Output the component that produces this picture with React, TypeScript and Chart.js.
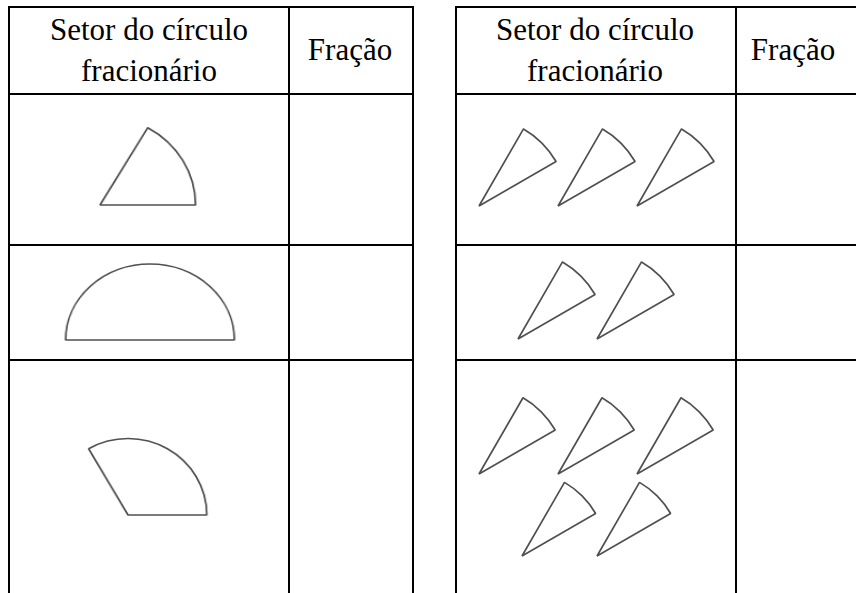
import React, { useEffect, useRef } from "react";
import { Chart, registerables } from "chart.js";

Chart.register(...registerables);

// ---- content ----
const headerSectorLines = ["Setor do círculo", "fracionário"];
const headerFraction = "Fração";
// Left table: one sector per row, as a fraction of the whole circle
const leftRowFractions = [1 / 6, 1 / 2, 1 / 3];
const leftRowStartDeg = [0, 0, 0];
// Right table: equal slices repeated in each row
const rightSliceFraction = 1 / 12;
const rightSliceStartDeg = 30;
const rightRowCounts = [3, 2, 5];

// ---- layout (pixels) ----
const FONT = "'Liberation Serif', 'Times New Roman', serif";
const FONT_SIZE = 31;
const LINE_H = 41;
const LINE_W = 2;
const rowLinesY = [6, 93, 244, 359];
const tables = [
  { x0: 8, x1: 414, colX: [8, 288, 412], sectorCenter: 149, fractionCenter: 350 },
  { x0: 455, x1: 860, colX: [455, 735], sectorCenter: 595, fractionCenter: 793 },
];
const leftSectorLayout = [
  { cx: 100, cy: 205, r: 89.3, sx: 1.07 },
  { cx: 150.3, cy: 340, r: 76, sx: 1.11 },
  { cx: 128.3, cy: 515, r: 76.5, sx: 1.03 },
];
const rightSliceLayout = [
  [
    { cx: 479, cy: 205.7, r: 89 },
    { cx: 557.7, cy: 205.7, r: 89 },
    { cx: 636.7, cy: 205.7, r: 89 },
  ],
  [
    { cx: 517.7, cy: 339.3, r: 89 },
    { cx: 596.7, cy: 339.3, r: 89 },
  ],
  [
    { cx: 479, cy: 474.3, r: 88 },
    { cx: 557.7, cy: 474.3, r: 88 },
    { cx: 636.7, cy: 474.3, r: 88 },
    { cx: 521.7, cy: 555.7, r: 85 },
    { cx: 596.7, cy: 555.7, r: 85 },
  ],
];
const STROKE = "#505050";

type SectorProps = {
  fraction: number;
  startDeg: number;
  cx: number;
  cy: number;
  r: number;
  sx?: number;
};

function Sector({ fraction, startDeg, cx, cy, r, sx = 1 }: SectorProps) {
  const ref = useRef<HTMLCanvasElement>(null);
  const size = 2 * Math.ceil(r + 5);
  const rotation = 90 - (startDeg + fraction * 360);
  useEffect(() => {
    const chart = new Chart(ref.current as HTMLCanvasElement, {
      type: "pie",
      data: {
        labels: ["setor", "resto"],
        datasets: [
          {
            data: [fraction, 1 - fraction],
            backgroundColor: ["rgba(0,0,0,0)", "rgba(0,0,0,0)"],
            borderColor: [STROKE, "rgba(0,0,0,0)"],
            borderWidth: [1.7, 0],
            borderAlign: "center",
            radius: r,
            rotation: rotation,
          } as any,
        ],
      },
      options: {
        responsive: false,
        maintainAspectRatio: false,
        animation: false,
        events: [],
        radius: r,
        rotation: rotation,
        layout: { padding: 0 },
        plugins: { legend: { display: false }, tooltip: { enabled: false } },
      } as any,
    });
    return () => chart.destroy();
  }, []);
  return (
    <canvas
      ref={ref}
      width={size}
      height={size}
      style={{
        position: "absolute",
        left: Math.round(cx - size / 2),
        top: Math.round(cy - size / 2),
        width: size,
        height: size,
        transform: `scaleX(${sx})`,
        transformOrigin: "center center",
      }}
    />
  );
}

function HLine({ x0, x1, y }: { x0: number; x1: number; y: number }) {
  return (
    <div style={{ position: "absolute", left: x0, top: y, width: x1 - x0, height: LINE_W, background: "#000" }} />
  );
}
function VLine({ x, y0, y1 }: { x: number; y0: number; y1: number }) {
  return (
    <div style={{ position: "absolute", left: x, top: y0, width: LINE_W, height: y1 - y0, background: "#000" }} />
  );
}

function Label({ text, center, top }: { text: string; center: number; top: number }) {
  return (
    <div
      style={{
        position: "absolute",
        left: center - 150,
        top,
        width: 300,
        textAlign: "center",
        fontFamily: FONT,
        fontSize: FONT_SIZE,
        lineHeight: `${LINE_H}px`,
        color: "#000",
        whiteSpace: "nowrap",
      }}
    >
      {text}
    </div>
  );
}

export default function App() {
  return (
    <div
      style={{
        position: "absolute",
        left: 0,
        top: 0,
        width: 856,
        height: 593,
        overflow: "hidden",
        background: "#fff",
      }}
    >
      {tables.map((t, ti) => (
        <React.Fragment key={"t" + ti}>
          {rowLinesY.map((y, i) => (
            <HLine key={"h" + i} x0={t.x0} x1={t.x1} y={y} />
          ))}
          {t.colX.map((x, i) => (
            <VLine key={"v" + i} x={x} y0={rowLinesY[0]} y1={600} />
          ))}
          <Label text={headerSectorLines[0]} center={t.sectorCenter} top={9} />
          <Label text={headerSectorLines[1]} center={t.sectorCenter} top={50} />
          <Label text={headerFraction} center={t.fractionCenter} top={29} />
        </React.Fragment>
      ))}
      {leftRowFractions.map((f, i) => (
        <Sector key={"l" + i} fraction={f} startDeg={leftRowStartDeg[i]} {...leftSectorLayout[i]} />
      ))}
      {rightRowCounts.map((count, row) =>
        Array.from({ length: count }).map((_, k) => (
          <Sector
            key={"r" + row + "-" + k}
            fraction={rightSliceFraction}
            startDeg={rightSliceStartDeg}
            {...rightSliceLayout[row][k]}
          />
        ))
      )}
    </div>
  );
}
